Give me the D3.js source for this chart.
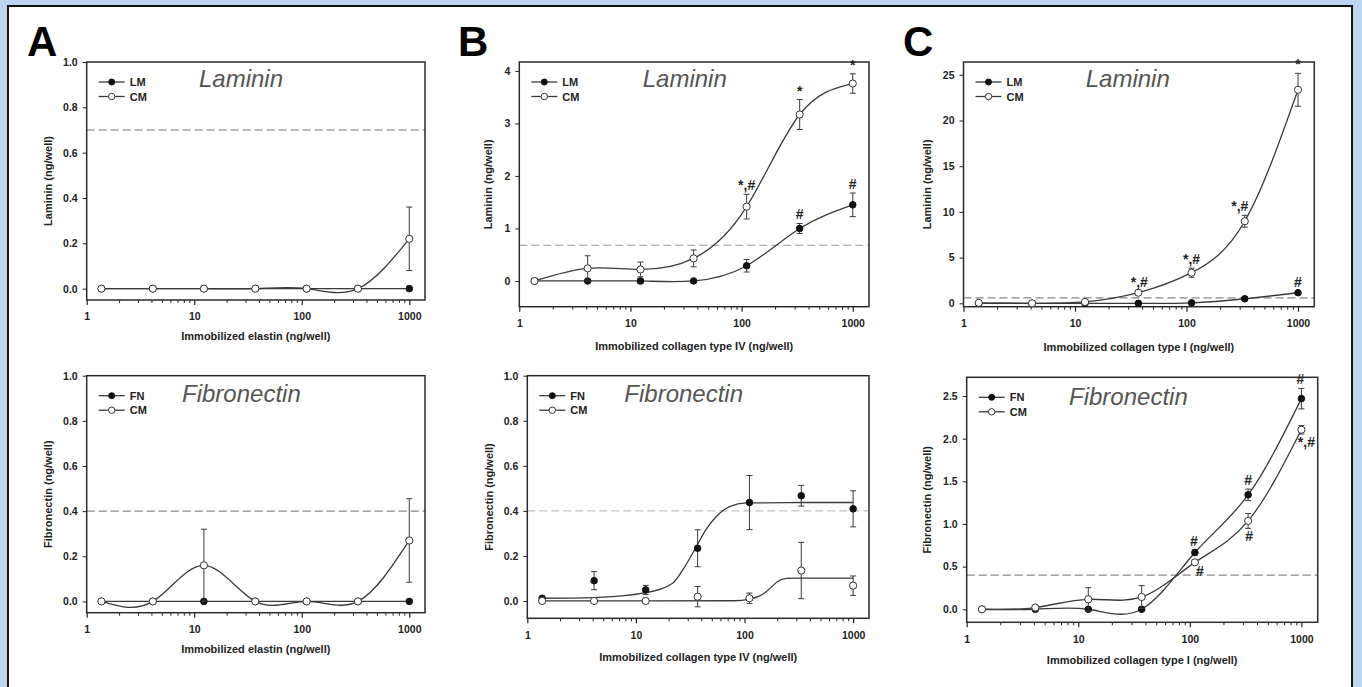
<!DOCTYPE html>
<html>
<head>
<meta charset="utf-8">
<script src="https://cdn.jsdelivr.net/npm/d3@7"></script>
<style>
body { margin: 0; background: #fff; }
svg text { font-family: Arial, "Liberation Sans", sans-serif; }
</style>
</head>
<body>
<script>
var w = 1362;
var h = 687;

// doses of immobilized protein (ng/well), same for all panels
var doses = [1.37, 4.12, 12.3, 37, 111, 333, 1000];

// A - elastin
var aLamLM = [0, 0, 0, 0, 0, 0, 0];
var aLamLMErr = [0, 0, 0, 0, 0, 0, 0];
var aLamCM = [0, 0, 0, 0, 0, 0, 0.22];
var aLamCMErr = [0, 0, 0, 0, 0, 0, 0.14];
var aFnFN = [0, 0, 0, 0, 0, 0, 0];
var aFnFNErr = [0, 0, 0, 0, 0, 0, 0];
var aFnCM = [0, 0, 0.16, 0, 0, 0, 0.27];
var aFnCMErr = [0, 0, 0.16, 0, 0, 0, 0.185];

// B - collagen type IV
var bLamLM = [0, 0, 0, 0, 0.29, 1.0, 1.45];
var bLamLMErr = [0, 0, 0.05, 0, 0.12, 0.095, 0.225];
var bLamCM = [0, 0.24, 0.22, 0.43, 1.415, 3.17, 3.76];
var bLamCMErr = [0, 0.24, 0.14, 0.16, 0.235, 0.285, 0.185];
var bFnFN = [0.012, 0.09, 0.049, 0.234, 0.437, 0.467, 0.409];
var bFnFNErr = [0, 0.04, 0.02, 0.082, 0.12, 0.046, 0.08];
var bFnCM = [0, 0, 0, 0.019, 0.012, 0.135, 0.068];
var bFnCMErr = [0, 0, 0, 0.045, 0.023, 0.125, 0.043];
// fitted sigmoid curves in B fibronectin
var bFnFNFitX = [1.37, 4.12, 12.3, 21.8, 27, 36, 44, 55, 73, 104, 333, 1000];
var bFnFNFitY = [0.012, 0.015, 0.037, 0.079, 0.138, 0.241, 0.316, 0.375, 0.419, 0.435, 0.437, 0.437];
var bFnCMFitX = [1.37, 80, 111, 135, 158, 180, 200, 243, 300, 1000];
var bFnCMFitY = [0, 0.001, 0.008, 0.02, 0.041, 0.065, 0.085, 0.1, 0.101, 0.101];

// C - collagen type I
var cLamLM = [0, 0, 0, 0, 0.05, 0.5, 1.16];
var cLamLMErr = [0, 0, 0, 0, 0, 0.1, 0.15];
var cLamCM = [0.05, 0, 0.15, 1.16, 3.35, 8.98, 23.36];
var cLamCMErr = [0, 0, 0, 0.2, 0.5, 0.65, 1.8];
var cFnFN = [0, 0, 0, 0, 0.665, 1.342, 2.47];
var cFnFNErr = [0, 0, 0, 0, 0.03, 0.067, 0.12];
var cFnCM = [0, 0.02, 0.117, 0.144, 0.55, 1.036, 2.105];
var cFnCMErr = [0, 0.02, 0.136, 0.133, 0.02, 0.087, 0.05];

var svg = d3.select("body")
            .append("svg")
            .attr("width", w)
            .attr("height", h);

// blue frame
svg.append("rect").attr("x", 0).attr("y", 0).attr("width", w).attr("height", h).attr("fill", "#bcd5f3");
svg.append("rect").attr("x", 8).attr("y", 6).attr("width", 1344).attr("height", 700)
   .attr("fill", "#fff").attr("stroke", "#111").attr("stroke-width", 2);

var letters = [["A", 27], ["B", 458], ["C", 903]];
letters.forEach(function(l){
    svg.append("text").attr("x", l[1]).attr("y", 56).text(l[0])
       .attr("font-size", "42px").attr("font-weight", "bold").attr("fill", "#000");
});

var panels = [
 {box: [86.7, 425, 62, 300], yDomain: [-0.05, 1], yTicks: [0, 0.2, 0.4, 0.6, 0.8, 1], yFmt: ".1f",
  yTitle: "Laminin (ng/well)", yTitleX: 48, xTitle: "Immobilized elastin (ng/well)", xTitleY: 340,
  title: "Laminin", titleX: 199, titleY: 87, names: ["LM", "CM"],
  filled: aLamLM, filledErr: aLamLMErr, open: aLamCM, openErr: aLamCMErr,
  dash: 0.7, dashColor: "#777", notes: []},
 {box: [86.7, 425, 375.7, 612.7], yDomain: [-0.05, 1], yTicks: [0, 0.2, 0.4, 0.6, 0.8, 1], yFmt: ".1f",
  yTitle: "Fibronectin (ng/well)", yTitleX: 48, xTitle: "Immobilized elastin (ng/well)", xTitleY: 652.7,
  title: "Fibronectin", titleX: 182, titleY: 402, names: ["FN", "CM"],
  filled: aFnFN, filledErr: aFnFNErr, open: aFnCM, openErr: aFnCMErr,
  dash: 0.4, dashColor: "#888", notes: []},
 {box: [519.3, 869, 62, 306.7], yDomain: [-0.49, 4.17], yTicks: [0, 1, 2, 3, 4], yFmt: "d",
  yTitle: "Laminin (ng/well)", yTitleX: 488, xTitle: "Immobilized collagen type IV (ng/well)", xTitleY: 350,
  title: "Laminin", titleX: 642.7, titleY: 87, names: ["LM", "CM"],
  filled: bLamLM, filledErr: bLamLMErr, open: bLamCM, openErr: bLamCMErr,
  dash: 0.68, dashColor: "#999",
  notes: [{s: "open", i: 4, t: "*,#", pos: "above", dx: 0},
          {s: "open", i: 5, t: "*", pos: "above", dx: 0},
          {s: "open", i: 6, t: "*", pos: "above", dx: 0},
          {s: "filled", i: 5, t: "#", pos: "above", dx: 0},
          {s: "filled", i: 6, t: "#", pos: "above", dx: 0}]},
 {box: [527.3, 869, 375.7, 618.3], yDomain: [-0.077, 1], yTicks: [0, 0.2, 0.4, 0.6, 0.8, 1], yFmt: ".1f",
  yTitle: "Fibronectin (ng/well)", yTitleX: 489, xTitle: "Immobilized collagen type IV (ng/well)", xTitleY: 661,
  title: "Fibronectin", titleX: 624.3, titleY: 402, names: ["FN", "CM"],
  filled: bFnFN, filledErr: bFnFNErr, open: bFnCM, openErr: bFnCMErr,
  fitFilled: [bFnFNFitX, bFnFNFitY], fitOpen: [bFnCMFitX, bFnCMFitY],
  dash: 0.4, dashColor: "#c4c4c4", notes: []},
 {box: [963.5, 1314.3, 62, 306.7], yDomain: [-0.37, 26.4], yTicks: [0, 5, 10, 15, 20, 25], yFmt: "d",
  yTitle: "Laminin (ng/well)", yTitleX: 927, xTitle: "Immobilized collagen type I (ng/well)", xTitleY: 350.7,
  title: "Laminin", titleX: 1085.7, titleY: 87, names: ["LM", "CM"],
  filled: cLamLM, filledErr: cLamLMErr, open: cLamCM, openErr: cLamCMErr,
  dash: 0.6, dashColor: "#888",
  notes: [{s: "open", i: 3, t: "*,#", pos: "above", dx: 1},
          {s: "open", i: 4, t: "*,#", pos: "above", dx: 0},
          {s: "open", i: 5, t: "*,#", pos: "above", dx: -5},
          {s: "open", i: 6, t: "*", pos: "above", dx: 0},
          {s: "filled", i: 6, t: "#", pos: "above", dx: 0}]},
 {box: [966.7, 1317.7, 377.3, 622.3], yDomain: [-0.153, 2.72], yTicks: [0, 0.5, 1, 1.5, 2, 2.5], yFmt: ".1f",
  yTitle: "Fibronectin (ng/well)", yTitleX: 927, xTitle: "Immobilized collagen type I (ng/well)", xTitleY: 664.3,
  title: "Fibronectin", titleX: 1069, titleY: 405, names: ["FN", "CM"],
  filled: cFnFN, filledErr: cFnFNErr, open: cFnCM, openErr: cFnCMErr,
  dash: 0.4, dashColor: "#888",
  notes: [{s: "filled", i: 4, t: "#", pos: "above", dx: -1},
          {s: "open", i: 4, t: "#", pos: "right", dx: 5},
          {s: "filled", i: 5, t: "#", pos: "above", dx: 0},
          {s: "open", i: 5, t: "#", pos: "below", dx: 1},
          {s: "filled", i: 6, t: "#", pos: "above", dx: -1},
          {s: "open", i: 6, t: "*,#", pos: "below", dx: 5}]}
];

var lineCol = "#3a3a3a";

panels.forEach(function(p){
    var L = p.box[0], R = p.box[1], T = p.box[2], B = p.box[3];
    var xScale = d3.scaleLog().domain([1, 1400]).range([L, R]);
    var yScale = d3.scaleLinear().domain(p.yDomain).range([B, T]);
    var g = svg.append("g");

    // reference (dashed) line
    g.append("line")
     .attr("x1", L).attr("x2", R)
     .attr("y1", yScale(p.dash)).attr("y2", yScale(p.dash))
     .attr("stroke", p.dashColor).attr("stroke-width", 1.2)
     .attr("stroke-dasharray", "8,4");

    // y axis
    var yAxis = d3.axisLeft(yScale).tickValues(p.yTicks).tickSize(4).tickPadding(5)
                  .tickFormat(d3.format(p.yFmt));
    var ya = g.append("g").attr("transform", "translate(" + L + ",0)").call(yAxis);
    ya.select(".domain").remove();
    ya.selectAll("line").attr("stroke", "#222");
    ya.selectAll("text").attr("font-size", "10.5px").attr("font-weight", "bold")
      .attr("fill", "#222").attr("font-family", null);

    // x axis: majors and minors
    var majors = [1, 10, 100, 1000];
    var minors = [];
    [1, 10, 100, 1000].forEach(function(d){
        for (var k = 2; k <= 9; k++) if (d * k <= 1400) minors.push(d * k);
    });
    var xAxis = d3.axisBottom(xScale).tickValues(majors).tickSize(5).tickPadding(8)
                  .tickFormat(d3.format("d"));
    var xa = g.append("g").attr("transform", "translate(0," + B + ")").call(xAxis);
    xa.select(".domain").remove();
    xa.selectAll("line").attr("stroke", "#222").attr("stroke-width", 1.2);
    xa.selectAll("text").attr("font-size", "10.5px").attr("font-weight", "bold")
      .attr("fill", "#222").attr("font-family", null);
    var xm = g.append("g").attr("transform", "translate(0," + B + ")")
              .call(d3.axisBottom(xScale).tickValues(minors).tickSize(3).tickFormat(""));
    xm.select(".domain").remove();
    xm.selectAll("line").attr("stroke", "#222");

    // plot box
    g.append("rect").attr("x", L).attr("y", T).attr("width", R - L).attr("height", B - T)
     .attr("fill", "none").attr("stroke", "#2a2a2a").attr("stroke-width", 1.5);

    // axis titles
    g.append("text")
     .attr("transform", "translate(" + (p.yTitleX + 4) + "," + ((T + B) / 2) + ") rotate(-90)")
     .attr("text-anchor", "middle").attr("font-size", "11px").attr("font-weight", "bold")
     .attr("fill", "#222").text(p.yTitle);
    g.append("text").attr("x", (L + R) / 2).attr("y", p.xTitleY)
     .attr("text-anchor", "middle").attr("font-size", "11px").attr("font-weight", "bold")
     .attr("fill", "#222").text(p.xTitle);

    // panel title
    g.append("text").attr("x", p.titleX).attr("y", p.titleY).text(p.title)
     .attr("font-size", "24px").attr("font-style", "italic").attr("fill", "#555");

    // curves
    var line = d3.line()
                 .x(function(d){ return xScale(d[0]); })
                 .y(function(d){ return yScale(d[1]); });
    function series(vals){ return doses.map(function(d, i){ return [d, vals[i]]; }); }
    function fitPts(f){ return f[0].map(function(d, i){ return [d, f[1][i]]; }); }

    var curves = [];
    if (p.fitFilled) {
        curves.push({pts: fitPts(p.fitFilled), c: d3.curveMonotoneX});
        curves.push({pts: fitPts(p.fitOpen), c: d3.curveMonotoneX});
    } else {
        curves.push({pts: series(p.filled), c: d3.curveNatural});
        curves.push({pts: series(p.open), c: d3.curveNatural});
    }
    curves.forEach(function(cv){
        g.append("path").attr("d", line.curve(cv.c)(cv.pts))
         .attr("fill", "none").attr("stroke", lineCol).attr("stroke-width", 1.3);
    });

    // error bars and markers
    function drawPoints(vals, errs, filled){
        doses.forEach(function(d, i){
            var x = xScale(d);
            if (errs[i] > 0) {
                var y1 = yScale(vals[i] + errs[i]), y2 = yScale(vals[i] - errs[i]);
                g.append("line").attr("x1", x).attr("x2", x).attr("y1", y1).attr("y2", y2)
                 .attr("stroke", lineCol).attr("stroke-width", 1);
                [y1, y2].forEach(function(yy){
                    g.append("line").attr("x1", x - 3).attr("x2", x + 3).attr("y1", yy).attr("y2", yy)
                     .attr("stroke", lineCol).attr("stroke-width", 1);
                });
            }
        });
        g.selectAll(null).data(vals).enter().append("circle")
         .attr("cx", function(v, i){ return xScale(doses[i]); })
         .attr("cy", function(v){ return yScale(v); })
         .attr("r", filled ? 3.3 : 3.6)
         .attr("fill", filled ? "#111" : "#fff")
         .attr("stroke", filled ? "#111" : "#333").attr("stroke-width", 1);
    }
    drawPoints(p.filled, p.filledErr, true);
    drawPoints(p.open, p.openErr, false);

    // significance marks
    p.notes.forEach(function(n){
        var vals = n.s == "open" ? p.open : p.filled;
        var errs = n.s == "open" ? p.openErr : p.filledErr;
        var x = xScale(doses[n.i]) + n.dx;
        var y;
        if (n.pos == "above") y = yScale(vals[n.i] + errs[n.i]) - 4;
        else if (n.pos == "below") y = yScale(vals[n.i] - errs[n.i]) + 13;
        else y = yScale(vals[n.i]) + 14;
        g.append("text").attr("x", x).attr("y", y).text(n.t)
         .attr("text-anchor", "middle").attr("font-size", "14px").attr("font-weight", "bold")
         .attr("fill", "#222");
    });

    // legend
    var lx = L + 12, ly = T + 20;
    [0, 1].forEach(function(k){
        var yy = ly + k * 14.5;
        g.append("line").attr("x1", lx).attr("x2", lx + 26).attr("y1", yy).attr("y2", yy)
         .attr("stroke", lineCol).attr("stroke-width", 1.3);
        g.append("circle").attr("cx", lx + 13).attr("cy", yy).attr("r", k == 0 ? 3 : 3.2)
         .attr("fill", k == 0 ? "#111" : "#fff").attr("stroke", k == 0 ? "#111" : "#333");
        g.append("text").attr("x", lx + 31).attr("y", yy + 4).text(p.names[k])
         .attr("font-size", "11px").attr("font-weight", "bold").attr("fill", "#222");
    });
});
</script>
</body>
</html>
